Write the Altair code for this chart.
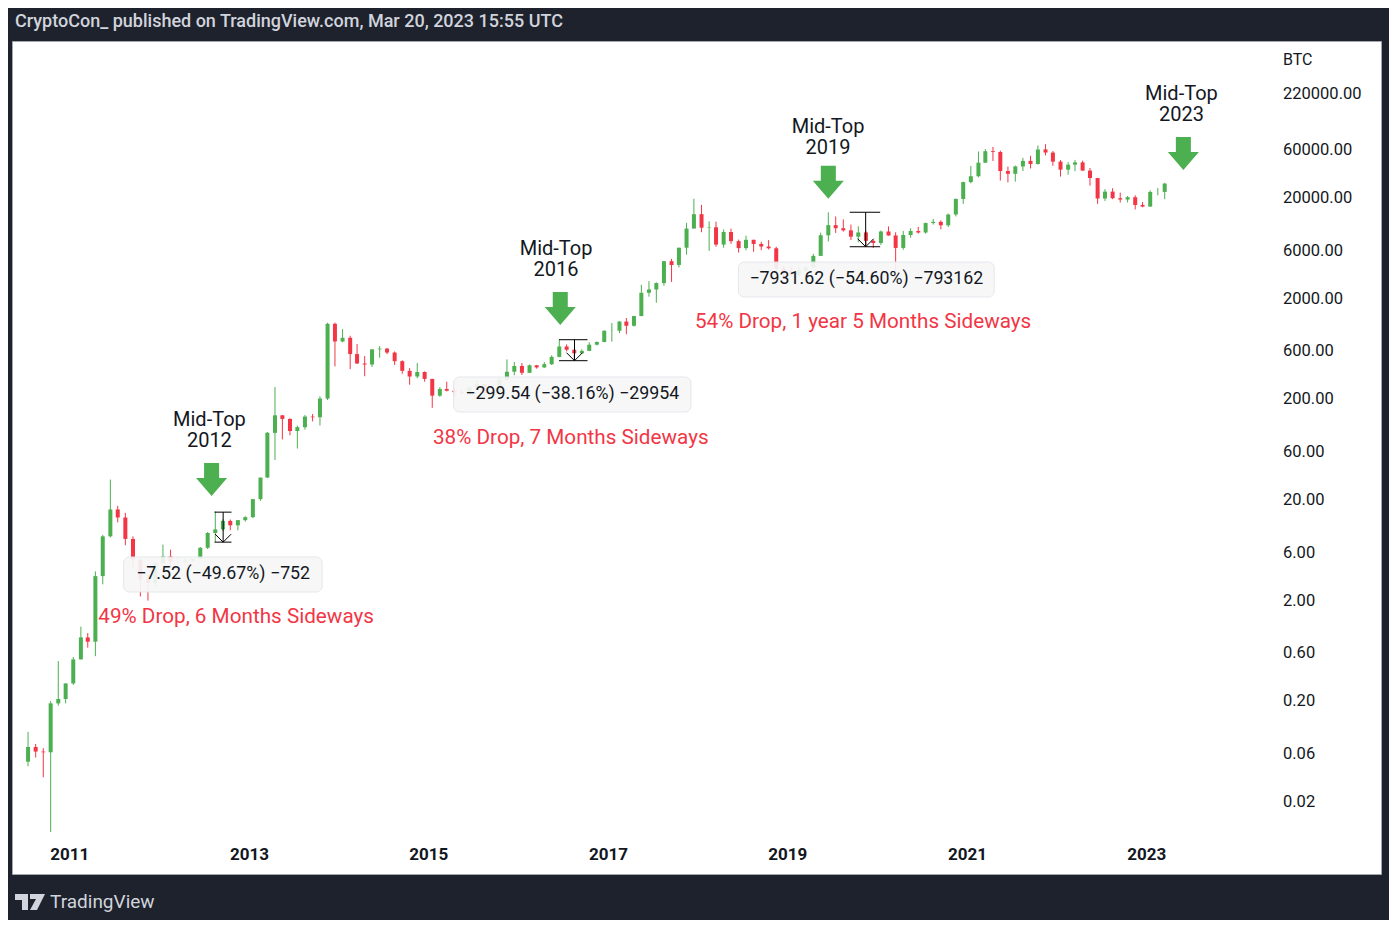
import altair as alt
import pandas as pd

FONT = "Roboto"
GREEN = "#4caf50"
RED = "#f23645"
INK = "#131722"
FRAME_BG = "#1e222d"
CHROME = "#d1d4dc"

# ---------------- monthly BTC candles, Jul 2010 .. Mar 2023 ----------------
first_month = "2010-07-01"
opens = [
    0.05, 0.07, 0.063, 0.062, 0.19, 0.21,
    0.3, 0.52, 0.86, 0.78, 3.5, 8.7, 16.1, 13.4, 8.2, 5.1, 3.25, 3.0,
    4.7, 5.5, 4.9, 4.9, 5.0, 5.2, 6.7, 9.4, 10.2, 12.4, 11.2, 12.6,
    13.5, 20.4, 33.4, 93, 139, 128, 97, 106, 135, 133, 204, 1130,
    754, 820, 565, 455, 445, 630, 640, 585, 480, 385, 338, 375,
    320, 218, 254, 244, 236, 230, 263, 284, 230, 236, 314, 377,
    430, 368, 437, 416, 448, 530, 672, 624, 575, 608, 700, 745,
    963, 965, 1190, 1080, 1350, 2300, 2480, 2870, 4740, 4340, 6450, 10000,
    13900, 10200, 10300, 6930, 9240, 7500, 6390, 7730, 7030, 6630, 6370, 4020,
    3740, 3460, 3820, 4110, 5350, 8570, 10820, 10080, 9600, 8300, 9150, 7550,
    7190, 9350, 8540, 6420, 8630, 9450, 9140, 11350, 11660, 10780, 13800, 19700,
    28990, 33140, 45200, 58800, 57700, 37300, 35040, 41460, 47100, 43800, 61300, 57000,
    46300, 38500, 43200, 45500, 37700, 31800, 19900, 23300, 20050, 19430, 20500, 17170,
    16550, 23140, 23150,
]
highs = [
    0.099, 0.075, 0.068, 0.2, 0.5, 0.3,
    0.55, 1.1, 0.95, 3.9, 9.0, 31.9, 17.5, 14.9, 8.7, 5.2, 3.6, 4.8,
    7.2, 6.4, 5.4, 5.3, 5.2, 6.8, 9.6, 15.4, 12.9, 12.8, 12.6, 13.8,
    20.4, 33.4, 95, 266, 140, 130, 110, 140, 143, 215, 1155, 1160,
    1000, 860, 710, 540, 630, 680, 650, 600, 490, 410, 460, 380,
    320, 265, 300, 260, 247, 267, 315, 285, 245, 330, 500, 470,
    460, 445, 440, 470, 550, 785, 705, 625, 630, 740, 755, 975,
    1150, 1200, 1290, 1350, 2760, 3000, 2920, 4750, 5000, 6470, 11400, 19800,
    17200, 11800, 11700, 9800, 9990, 7770, 8500, 7760, 7400, 7680, 6600, 4250,
    4140, 4200, 4150, 5600, 9100, 14500, 13200, 12330, 10950, 10540, 9500, 7750,
    9580, 10500, 9190, 9470, 10070, 10400, 11450, 12480, 12070, 14100, 19900, 29300,
    41950, 58350, 61780, 64900, 59600, 41300, 42300, 50500, 52900, 67000, 69000, 59100,
    48000, 45800, 48200, 47400, 40000, 31900, 24700, 25200, 22800, 21100, 21450, 18400,
    23960, 25250, 28500,
]
lows = [
    0.045, 0.055, 0.035, 0.01, 0.18, 0.19,
    0.29, 0.52, 0.68, 0.56, 2.9, 8.5, 12.0, 7.1, 4.2, 2.2, 2.0, 2.8,
    4.6, 4.2, 4.6, 4.7, 4.9, 5.2, 6.5, 7.6, 9.8, 10.0, 10.0, 12.2,
    13.2, 19.6, 33, 50, 80, 88, 65, 100, 121, 110, 197, 426,
    740, 400, 450, 340, 420, 520, 565, 440, 360, 280, 325, 300,
    165, 212, 240, 215, 228, 219, 253, 198, 225, 235, 305, 348,
    350, 365, 405, 412, 440, 525, 600, 485, 570, 605, 690, 740,
    750, 915, 890, 1060, 1340, 2100, 1830, 2700, 2950, 4100, 5500, 10000,
    9200, 6000, 6600, 6450, 7050, 5780, 6070, 5880, 6100, 6200, 3500, 3130,
    3350, 3370, 3700, 4080, 5330, 7450, 9050, 9330, 7700, 7300, 6550, 6430,
    6870, 8500, 3850, 6150, 8120, 8900, 8900, 10950, 9830, 10370, 13200, 17600,
    28150, 32300, 45000, 47000, 30000, 28800, 29300, 37300, 39600, 43300, 53300, 42000,
    32900, 34300, 37200, 37600, 26700, 17600, 18800, 19600, 18150, 18200, 15500, 16260,
    16500, 21400, 19600,
]
closes = [
    0.07, 0.063, 0.062, 0.19, 0.21, 0.3,
    0.52, 0.86, 0.78, 3.5, 8.7, 16.1, 13.4, 8.2, 5.1, 3.25, 3.0, 4.7,
    5.5, 4.9, 4.9, 5.0, 5.2, 6.7, 9.4, 10.2, 12.4, 11.2, 12.6, 13.5,
    20.4, 33.4, 93, 139, 128, 97, 106, 135, 133, 204, 1130, 754,
    820, 565, 455, 445, 630, 640, 585, 480, 385, 338, 375, 320,
    218, 254, 244, 236, 230, 263, 284, 230, 236, 314, 377, 430,
    368, 437, 416, 448, 530, 672, 624, 575, 608, 700, 745, 963,
    965, 1190, 1080, 1350, 2300, 2480, 2870, 4740, 4340, 6450, 10000, 13900,
    10200, 10300, 6930, 9240, 7500, 6390, 7730, 7030, 6630, 6370, 4020, 3740,
    3460, 3820, 4110, 5350, 8570, 10820, 10080, 9600, 8300, 9150, 7550, 7190,
    9350, 8540, 6420, 8630, 9450, 9140, 11350, 11660, 10780, 13800, 19700, 28990,
    33140, 45200, 58800, 57700, 37300, 35040, 41460, 47100, 43800, 61300, 57000, 46300,
    38500, 43200, 45500, 37700, 31800, 19900, 23300, 20050, 19430, 20500, 17170, 16550,
    23140, 23150, 28000,
]

# ---------------- axis ticks ----------------
price_ticks = [0.02, 0.06, 0.2, 0.6, 2, 6, 20, 60, 200, 600, 2000, 6000, 20000, 60000, 220000]
year_ticks = [2011, 2013, 2015, 2017, 2019, 2021, 2023]

# ---------------- annotations ----------------
mid_dates = ["2012-07-22", "2016-06-02", "2019-06-14", "2023-05-22"]
mid_prices = [125.0, 6265, 102300, 217800]
mid_labels = ["Mid-Top\n2012", "Mid-Top\n2016", "Mid-Top\n2019", "Mid-Top\n2023"]

arrow_dates = ["2012-07-31", "2016-06-19", "2019-06-15", "2023-05-30"]
arrow_prices = [31.99, 1604, 28850, 55790]

measure_start = ["2012-08-12", "2016-06-14", "2019-09-10"]
measure_end = ["2012-10-20", "2016-10-08", "2020-01-12"]
measure_mid = ["2012-09-16", "2016-08-16", "2019-11-14"]
measure_top = [15.14, 784.96, 14526.8]
measure_bottom = [7.62, 485.42, 6595.18]

box_start = ["2011-08-08", "2015-04-12", "2018-06-14"]
box_end = ["2013-10-24", "2017-12-03", "2021-04-20"]
box_top = [5.426, 334.3, 4652]
box_bottom = [2.434, 150.0, 2087]
box_labels = ["−7.52 (−49.67%) −752", "−299.54 (−38.16%) −29954", "−7931.62 (−54.60%) −793162"]
box_label_dates = ["2012-09-16", "2016-08-07", "2019-11-17"]
box_label_prices = [3.634, 223.9, 3116]

drop_labels = ["49% Drop, 6 Months Sideways", "38% Drop, 7 Months Sideways",
               "54% Drop, 1 year 5 Months Sideways"]
drop_dates = ["2011-04-27", "2015-01-18", "2017-12-19"]
drop_prices = [1.360, 82.7, 1178]

title_text = "CryptoCon_ published on TradingView.com, Mar 20, 2023 15:55 UTC"

# ---------------- tables ----------------
months = pd.date_range(first_month, periods=len(opens), freq="MS")
candles = pd.DataFrame({
    "date": months + pd.Timedelta(days=14),
    "open": opens, "high": highs, "low": lows, "close": closes,
})
candles["dir"] = ["up" if c >= o else "down" for o, c in zip(opens, closes)]

price_df = pd.DataFrame({"price": price_ticks, "label": [f"{v:.2f}" for v in price_ticks]})
year_df = pd.DataFrame({"date": pd.to_datetime([f"{y}-01-01" for y in year_ticks]),
                        "label": [str(y) for y in year_ticks]})

mid_df = pd.DataFrame({"date": pd.to_datetime(mid_dates), "price": mid_prices, "label": mid_labels})
arrow_df = pd.DataFrame({"date": pd.to_datetime(arrow_dates), "price": arrow_prices})
measure_df = pd.DataFrame({
    "start": pd.to_datetime(measure_start), "end": pd.to_datetime(measure_end),
    "mid": pd.to_datetime(measure_mid), "top": measure_top, "bottom": measure_bottom,
})
box_df = pd.DataFrame({
    "start": pd.to_datetime(box_start), "end": pd.to_datetime(box_end),
    "top": box_top, "bottom": box_bottom,
    "ldate": pd.to_datetime(box_label_dates), "lprice": box_label_prices, "label": box_labels,
})
drop_df = pd.DataFrame({"date": pd.to_datetime(drop_dates), "price": drop_prices, "label": drop_labels})
one = pd.DataFrame({"k": [0]})

# ---------------- scales ----------------
xscale = alt.Scale(domain=[alt.DateTime(year=2010, month=5, date=31),
                           alt.DateTime(year=2025, month=7, date=22)], nice=False)
yscale = alt.Scale(type="log", domain=[0.00382, 733000], nice=False)


def X(field):
    return alt.X(field, type="temporal", scale=xscale, axis=None)


def Y(field):
    return alt.Y(field, type="quantitative", scale=yscale, axis=None)


color = alt.Color("dir:N", scale=alt.Scale(domain=["up", "down"], range=[GREEN, RED]), legend=None)

wicks = alt.Chart(candles).mark_rule(strokeWidth=1).encode(
    x=X("date"), y=Y("low"), y2="high:Q", color=color,
)
bodies = alt.Chart(candles).mark_bar(size=4).encode(
    x=X("date"), y=Y("open"), y2="close:Q", color=color,
)

# price scale labels (right) and year labels (bottom)
price_labels = alt.Chart(price_df).mark_text(font=FONT, fontSize=16.5, color=INK, align="left",
                                             baseline="middle").encode(
    x=alt.value(1271), y=Y("price"), text="label:N")
year_labels = alt.Chart(year_df).mark_text(font=FONT, fontSize=17, fontWeight="bold", color=INK,
                                           align="center", baseline="middle").encode(
    x=X("date"), y=alt.value(814), text="label:N")

boxes = alt.Chart(box_df).mark_rect(cornerRadius=6, fill="#f7f7f8", stroke="#e3e5ea",
                                    strokeWidth=1, opacity=0.92).encode(
    x=X("start"), x2="end:T", y=Y("top"), y2="bottom:Q",
)
box_text = alt.Chart(box_df).mark_text(font=FONT, fontSize=17.8, color=INK, align="center",
                                       baseline="middle").encode(
    x=X("ldate"), y=Y("lprice"), text="label:N",
)

m_top = alt.Chart(measure_df).mark_rule(color="black", strokeWidth=1).encode(
    x=X("start"), x2="end:T", y=Y("top"))
m_bot = alt.Chart(measure_df).mark_rule(color="black", strokeWidth=1).encode(
    x=X("start"), x2="end:T", y=Y("bottom"))
m_vert = alt.Chart(measure_df).mark_rule(color="black", strokeWidth=1).encode(
    x=X("mid"), y=Y("top"), y2="bottom:Q")
m_head = alt.Chart(measure_df).mark_point(shape="M -1 -1 L 0 0 L 1 -1", size=256, filled=False,
                                          color="black", strokeWidth=1, opacity=1).encode(
    x=X("mid"), y=Y("bottom"))

arrows = alt.Chart(arrow_df).mark_point(
    shape="M -0.455 -1 L 0.455 -1 L 0.455 -0.09 L 0.94 -0.09 L 0 1 L -0.94 -0.09 L -0.455 -0.09 Z",
    size=1089, filled=True, color=GREEN, opacity=1, strokeWidth=0,
).encode(x=X("date"), y=Y("price"))

mid_text = alt.Chart(mid_df).mark_text(font=FONT, fontSize=20, color=INK, align="center",
                                       baseline="middle", lineBreak="\n", lineHeight=21).encode(
    x=X("date"), y=Y("price"), text="label:N")

drop_text = alt.Chart(drop_df).mark_text(font=FONT, fontSize=20.7, color=RED, align="left",
                                         baseline="middle").encode(
    x=X("date"), y=Y("price"), text="label:N")

# ---------------- page chrome ----------------
title = alt.Chart(one).mark_text(font=FONT, fontSize=18, fontWeight=500, color=CHROME, align="left",
                                 baseline="middle").encode(
    x=alt.value(3), y=alt.value(-19), text=alt.value(title_text))
btc = alt.Chart(one).mark_text(font=FONT, fontSize=16, color=INK, align="left",
                               baseline="middle").encode(
    x=alt.value(1271), y=alt.value(19), text=alt.value("BTC"))
footer = alt.Chart(one).mark_text(font=FONT, fontSize=19, color=CHROME, align="left",
                                  baseline="middle").encode(
    x=alt.value(38), y=alt.value(861), text=alt.value("TradingView"))
logo = alt.Chart(one).mark_point(
    shape=("M -1 -0.533 L -0.133 -0.533 L -0.133 0.533 L -0.533 0.533 L -0.533 -0.133 L -1 -0.133 Z "
           "M 0 -0.533 L 1 -0.533 L 0.467 0.533 L 0 0.533 L 0.4 -0.2 L 0 -0.2 Z"),
    size=900, filled=True, color=CHROME, opacity=1, strokeWidth=0,
).encode(x=alt.value(18), y=alt.value(861))

chart = alt.layer(
    wicks, bodies, price_labels, year_labels, boxes, box_text, m_top, m_bot, m_vert, m_head,
    arrows, mid_text, drop_text, title, btc, footer, logo,
).properties(
    width=1369, height=833,
    autosize=alt.AutoSizeParams(type="none"),
    padding={"left": 4, "top": 33, "right": 8, "bottom": 46},
    background=FRAME_BG,
).configure_view(fill="white", stroke="#a3a6af", strokeWidth=1)

chart.save("out.html", embed_options={"renderer": "svg", "actions": False})
